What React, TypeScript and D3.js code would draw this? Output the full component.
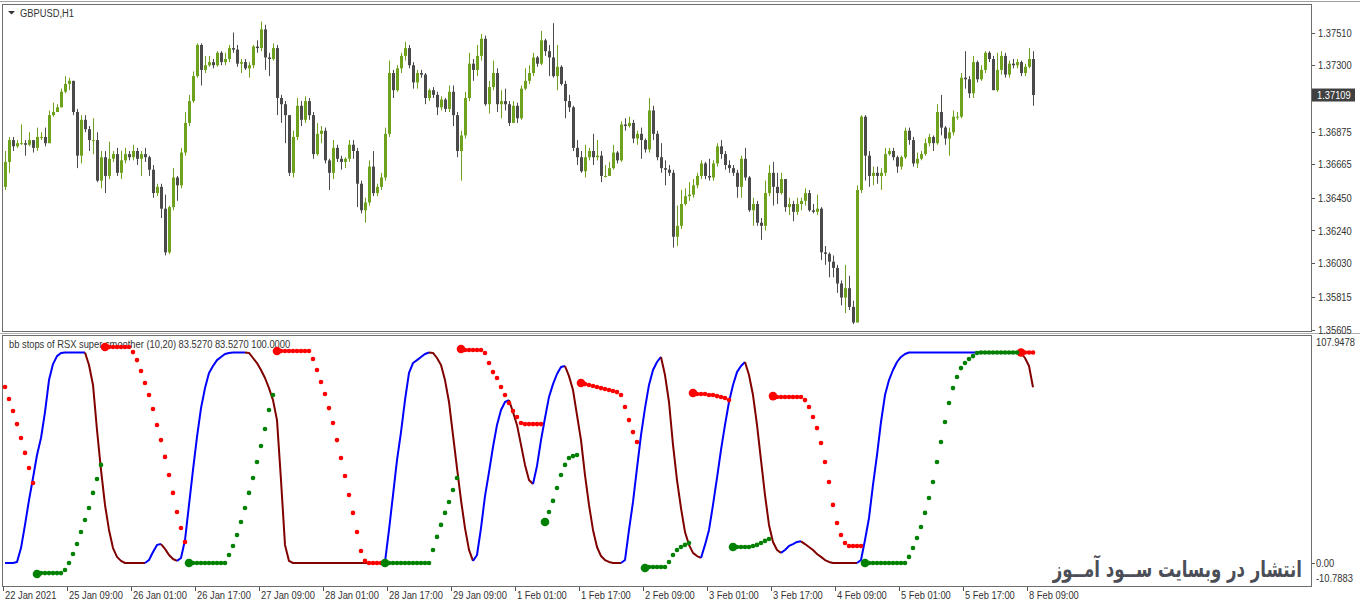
import React from 'react';
import * as d3 from 'd3';

// GBPUSD H1 candles (open of each bar = close of the previous one)
const firstOpen = 1.3652;
const closes = [
  1.3668, 1.3682, 1.3678, 1.3680, 1.3680, 1.3679, 1.3682, 1.3677, 1.3684, 1.3684,
  1.3680, 1.3698, 1.3700, 1.3703, 1.3713, 1.3718, 1.3720, 1.3700, 1.3672, 1.3695,
  1.3689, 1.3682, 1.3682, 1.3656, 1.3671, 1.3659, 1.3670, 1.3673, 1.3661, 1.3669,
  1.3673, 1.3671, 1.3675, 1.3670, 1.3673, 1.3671, 1.3663, 1.3648, 1.3652, 1.3638,
  1.3610, 1.3639, 1.3658, 1.3653, 1.3674, 1.3693, 1.3707, 1.3723, 1.3743, 1.3727,
  1.3730, 1.3732, 1.3730, 1.3738, 1.3732, 1.3734, 1.3741, 1.3740, 1.3731, 1.3732,
  1.3728, 1.3730, 1.3742, 1.3741, 1.3753, 1.3735, 1.3734, 1.3741, 1.3709, 1.3705,
  1.3698, 1.3661, 1.3684, 1.3704, 1.3695, 1.3707, 1.3698, 1.3673, 1.3686, 1.3688,
  1.3669, 1.3661, 1.3677, 1.3670, 1.3668, 1.3670, 1.3679, 1.3675, 1.3654, 1.3637,
  1.3642, 1.3665, 1.3648, 1.3652, 1.3658, 1.3686, 1.3725, 1.3714, 1.3728, 1.3736,
  1.3741, 1.3730, 1.3719, 1.3725, 1.3724, 1.3709, 1.3714, 1.3711, 1.3703, 1.3708,
  1.3702, 1.3713, 1.3698, 1.3675, 1.3685, 1.3709, 1.3731, 1.3727, 1.3736, 1.3747,
  1.3705, 1.3716, 1.3725, 1.3705, 1.3707, 1.3705, 1.3693, 1.3704, 1.3696, 1.3715,
  1.3720, 1.3725, 1.3735, 1.3731, 1.3746, 1.3739, 1.3735, 1.3723, 1.3729, 1.3718,
  1.3707, 1.3703, 1.3677, 1.3671, 1.3662, 1.3671, 1.3675, 1.3671, 1.3672, 1.3659,
  1.3659, 1.3664, 1.3674, 1.3669, 1.3692, 1.3691, 1.3693, 1.3683, 1.3686, 1.3682,
  1.3676, 1.3701, 1.3686, 1.3671, 1.3664, 1.3663, 1.3661, 1.3620, 1.3627, 1.3641,
  1.3646, 1.3647, 1.3653, 1.3659, 1.3667, 1.3659, 1.3658, 1.3667, 1.3678, 1.3673,
  1.3666, 1.3664, 1.3661, 1.3652, 1.3670, 1.3658, 1.3637, 1.3641, 1.3629, 1.3627,
  1.3648, 1.3661, 1.3652, 1.3648, 1.3657, 1.3639, 1.3641, 1.3636, 1.3641, 1.3643,
  1.3648, 1.3637, 1.3636, 1.3638, 1.3610, 1.3609, 1.3604, 1.3600, 1.3590, 1.3581,
  1.3587, 1.3575, 1.3565, 1.3650, 1.3697, 1.3672, 1.3659, 1.3661, 1.3659, 1.3661,
  1.3673, 1.3675, 1.3671, 1.3665, 1.3671, 1.3688, 1.3682, 1.3667, 1.3670, 1.3673,
  1.3680, 1.3684, 1.3680, 1.3700, 1.3690, 1.3683, 1.3687, 1.3697, 1.3697, 1.3722,
  1.3721, 1.3712, 1.3732, 1.3721, 1.3727, 1.3738, 1.3734, 1.3714, 1.3727, 1.3736,
  1.3724, 1.3731, 1.3730, 1.3732, 1.3725, 1.3729, 1.3734, 1.37109,
];
const highs = [
  1.3675, 1.3684, 1.3684, 1.3682, 1.3692, 1.3682, 1.3687, 1.3682, 1.3690, 1.3687,
  1.3690, 1.3701, 1.3706, 1.3705, 1.3715, 1.3723, 1.3722, 1.3720, 1.3702, 1.3698,
  1.3698, 1.3691, 1.3696, 1.3687, 1.3675, 1.3675, 1.3681, 1.3675, 1.3677, 1.3675,
  1.3677, 1.3675, 1.3679, 1.3677, 1.3675, 1.3677, 1.3672, 1.3666, 1.3654, 1.3654,
  1.3647, 1.3640, 1.3664, 1.3659, 1.3677, 1.3700, 1.3711, 1.3726, 1.3744, 1.3744,
  1.3736, 1.3736, 1.3734, 1.3739, 1.3739, 1.3738, 1.3743, 1.3751, 1.3743, 1.3734,
  1.3734, 1.3732, 1.3743, 1.3746, 1.3758, 1.3756, 1.3738, 1.3744, 1.3743, 1.3711,
  1.3707, 1.3698, 1.3688, 1.3709, 1.3707, 1.3710, 1.3709, 1.3700, 1.3693, 1.3691,
  1.3690, 1.3670, 1.3682, 1.3679, 1.3672, 1.3671, 1.3682, 1.3682, 1.3677, 1.3656,
  1.3645, 1.3669, 1.3675, 1.3654, 1.3661, 1.3690, 1.3733, 1.3727, 1.3730, 1.3738,
  1.3745, 1.3743, 1.3732, 1.3727, 1.3727, 1.3725, 1.3715, 1.3716, 1.3713, 1.3710,
  1.3709, 1.3717, 1.3717, 1.3700, 1.3688, 1.3713, 1.3738, 1.3734, 1.3743, 1.3750,
  1.3749, 1.3720, 1.3733, 1.3728, 1.3714, 1.3715, 1.3707, 1.3707, 1.3706, 1.3717,
  1.3728, 1.3730, 1.3738, 1.3736, 1.3752, 1.3747, 1.3743, 1.3757, 1.3743, 1.3730,
  1.3720, 1.3711, 1.3704, 1.3682, 1.3675, 1.3679, 1.3677, 1.3686, 1.3682, 1.3675,
  1.3666, 1.3668, 1.3679, 1.3675, 1.3694, 1.3696, 1.3697, 1.3695, 1.3688, 1.3690,
  1.3683, 1.3709, 1.3704, 1.3688, 1.3680, 1.3669, 1.3666, 1.3663, 1.3640, 1.3650,
  1.3651, 1.3655, 1.3657, 1.3661, 1.3669, 1.3668, 1.3670, 1.3669, 1.3680, 1.3682,
  1.3675, 1.3669, 1.3666, 1.3663, 1.3672, 1.3677, 1.3659, 1.3645, 1.3643, 1.3632,
  1.3656, 1.3666, 1.3668, 1.3661, 1.3661, 1.3657, 1.3645, 1.3643, 1.3645, 1.3645,
  1.3651, 1.3650, 1.3641, 1.3647, 1.3639, 1.3614, 1.3610, 1.3608, 1.3602, 1.3592,
  1.3602, 1.3595, 1.3579, 1.3653, 1.3698, 1.3698, 1.3675, 1.3665, 1.3665, 1.3664,
  1.3677, 1.3677, 1.3677, 1.3672, 1.3672, 1.3690, 1.3690, 1.3684, 1.3674, 1.3675,
  1.3683, 1.3686, 1.3685, 1.3705, 1.3711, 1.3691, 1.3690, 1.3701, 1.3700, 1.3725,
  1.3739, 1.3723, 1.3736, 1.3733, 1.3730, 1.3739, 1.3739, 1.3736, 1.3738, 1.3739,
  1.3738, 1.3733, 1.3734, 1.3734, 1.3733, 1.3731, 1.3741, 1.3739,
];
const lows = [
  1.3650, 1.3661, 1.3675, 1.3677, 1.3679, 1.3672, 1.3678, 1.3674, 1.3675, 1.3682,
  1.3678, 1.3680, 1.3697, 1.3700, 1.3703, 1.3712, 1.3714, 1.3698, 1.3664, 1.3667,
  1.3687, 1.3675, 1.3673, 1.3655, 1.3651, 1.3648, 1.3657, 1.3668, 1.3659, 1.3657,
  1.3667, 1.3669, 1.3669, 1.3666, 1.3659, 1.3668, 1.3659, 1.3645, 1.3646, 1.3632,
  1.3608, 1.3609, 1.3637, 1.3643, 1.3651, 1.3672, 1.3691, 1.3706, 1.3722, 1.3717,
  1.3725, 1.3729, 1.3728, 1.3729, 1.3730, 1.3730, 1.3732, 1.3738, 1.3729, 1.3725,
  1.3727, 1.3722, 1.3728, 1.3738, 1.3739, 1.3727, 1.3723, 1.3733, 1.3698, 1.3693,
  1.3680, 1.3659, 1.3658, 1.3682, 1.3691, 1.3693, 1.3695, 1.3670, 1.3672, 1.3680,
  1.3667, 1.3650, 1.3657, 1.3668, 1.3663, 1.3664, 1.3668, 1.3670, 1.3639, 1.3635,
  1.3629, 1.3640, 1.3646, 1.3646, 1.3650, 1.3656, 1.3684, 1.3709, 1.3713, 1.3725,
  1.3733, 1.3728, 1.3715, 1.3715, 1.3722, 1.3705, 1.3707, 1.3709, 1.3698, 1.3701,
  1.3700, 1.3700, 1.3691, 1.3671, 1.3656, 1.3683, 1.3707, 1.3720, 1.3723, 1.3733,
  1.3704, 1.3699, 1.3714, 1.3700, 1.3696, 1.3701, 1.3691, 1.3698, 1.3693, 1.3695,
  1.3714, 1.3718, 1.3723, 1.3729, 1.3730, 1.3736, 1.3723, 1.3722, 1.3714, 1.3717,
  1.3696, 1.3700, 1.3675, 1.3666, 1.3661, 1.3658, 1.3669, 1.3666, 1.3669, 1.3655,
  1.3658, 1.3659, 1.3663, 1.3667, 1.3668, 1.3688, 1.3690, 1.3680, 1.3679, 1.3670,
  1.3674, 1.3674, 1.3682, 1.3669, 1.3661, 1.3653, 1.3659, 1.3613, 1.3614, 1.3625,
  1.3640, 1.3643, 1.3645, 1.3651, 1.3657, 1.3657, 1.3656, 1.3656, 1.3665, 1.3670,
  1.3663, 1.3661, 1.3659, 1.3645, 1.3645, 1.3656, 1.3636, 1.3627, 1.3627, 1.3618,
  1.3624, 1.3646, 1.3640, 1.3641, 1.3647, 1.3636, 1.3634, 1.3630, 1.3634, 1.3637,
  1.3640, 1.3636, 1.3635, 1.3634, 1.3605, 1.3602, 1.3594, 1.3594, 1.3584, 1.3576,
  1.3571, 1.3573, 1.3564, 1.3566, 1.3648, 1.3656, 1.3652, 1.3653, 1.3654, 1.3650,
  1.3659, 1.3672, 1.3669, 1.3661, 1.3663, 1.3670, 1.3679, 1.3665, 1.3664, 1.3669,
  1.3672, 1.3678, 1.3675, 1.3679, 1.3685, 1.3679, 1.3672, 1.3685, 1.3695, 1.3696,
  1.3715, 1.3709, 1.3709, 1.3719, 1.3720, 1.3725, 1.3732, 1.3714, 1.3713, 1.3724,
  1.3722, 1.3722, 1.3728, 1.3728, 1.3723, 1.3723, 1.3728, 1.3704,
];

// RSX super smoother, one value per bar
const rsx = [
  0, 0, 0, 0.5, 7.1, 18.1, 29.9, 40.4, 51.3, 59.4,
  71.7, 86.9, 94.5, 98.3, 99.8, 100, 100, 100, 100, 100,
  100, 94.1, 84.6, 63.2, 44.2, 27.6, 15.7, 7.1, 2.9, 1.0,
  0, 0, 0, 0, 0, 0, 1.4, 5.2, 8.6, 9.0,
  6.7, 3.8, 1.9, 1.0, 2.4, 10.9, 27.6, 44.2, 59.9, 73.6,
  83.1, 90.3, 93.6, 96.4, 97.9, 99.3, 99.8, 100, 100, 100,
  100, 99.8, 97.4, 95.0, 91.7, 87.9, 83.1, 77.4, 67.9, 39.4,
  8.6, 1.0, 0, 0, 0, 0, 0, 0, 0, 0,
  0, 0, 0, 0, 0, 0, 0, 0, 0, 0,
  0, 0, 0, 0, 0, 0.5, 15.7, 32.3, 48.9, 62.2,
  77.4, 90.3, 95.0, 96.4, 97.9, 99.3, 100, 99.8, 97.4, 94.1,
  86.9, 76.5, 60.8, 45.1, 29.9, 16.6, 6.2, 1.0, 3.8, 16.6,
  31.8, 43.2, 55.1, 65.6, 72.7, 76.5, 77.4, 71.7, 65.6, 56.1,
  46.6, 39.4, 37.5, 46.1, 58.4, 68.9, 78.9, 85.0, 89.8, 93.1,
  93.6, 88.8, 82.2, 70.3, 58.4, 41.8, 27.6, 15.7, 7.6, 3.3,
  1.4, 0.5, 0, 0, 0, 1.4, 15.7, 29.0, 45.1, 60.8,
  73.6, 84.6, 91.7, 95.5, 97.9, 89.3, 76.5, 56.1, 39.4, 26.1,
  14.7, 8.6, 4.8, 3.3, 2.4, 8.6, 15.7, 27.6, 40.4, 53.7,
  65.6, 76.5, 84.6, 90.7, 93.6, 95.5, 89.3, 79.8, 65.6, 48.9,
  32.3, 18.1, 10.0, 6.2, 4.8, 6.2, 8.1, 9.0, 10.0, 10.3,
  9.0, 7.6, 6.2, 4.3, 2.9, 1.4, 0.5, 0, 0, 0,
  0, 0, 0, 0, 1.4, 10.9, 21.4, 37.1, 51.3, 67.0,
  79.8, 86.9, 91.7, 95.5, 97.9, 99.3, 100, 100, 100, 100,
  100, 100, 100, 100, 100, 100, 100, 100, 100, 100,
  100, 100, 100, 100, 100, 100, 100, 100, 100, 100,
  100, 100, 100, 100, 99.8, 97.4, 93.6, 83.527,
];

// stop dots: [first bar index, values...]
const upperStops: [number, number[]][] = [
  [0, [83.6, 77.9, 72.2, 66.0, 59.4, 52.3, 45.1, 38.0]],
  [25, [102.6, 102.6, 102.6, 102.6, 102.6, 102.6, 102.6, 100.2, 96.4, 91.2, 85.5, 79.8, 73.2, 65.6, 58.4, 50.4, 41.8, 33.3, 24.2, 16.6, 10.0]],
  [68, [100.7, 100.7, 100.7, 100.7, 100.7, 100.7, 100.7, 100.7, 100.7, 96.9, 91.7, 86.0, 80.3, 73.6, 66.5, 58.4, 49.9, 41.3, 32.3, 23.8, 14.7, 5.7, 1.0, 0, 0, 0, 0]],
  [114, [101.7, 101.2, 101.2, 101.2, 101.2, 101.2, 99.8, 95.0, 90.7, 87.9, 83.6, 79.8, 76.0, 72.2, 69.4, 66.5, 66.0, 66.0, 66.0, 66.0, 66.0]],
  [144, [85.5, 85.0, 84.6, 84.1, 83.6, 83.1, 82.7, 82.2, 81.7, 81.2, 79.8, 74.1, 67.9, 62.2, 57.5]],
  [172, [80.8, 80.3, 80.3, 80.3, 79.8, 79.8, 79.3, 78.9, 78.4, 77.4]],
  [192, [79.3, 78.9, 78.9, 78.9, 78.9, 78.9, 78.9, 78.9, 77.4, 74.1, 69.4, 64.1, 57.0, 48.0, 38.5, 27.6, 19.0, 13.3, 9.5, 8.1, 8.1, 8.1, 8.1]],
  [254, [100, 100, 100, 100]],
];
const lowerStops: [number, number[]][] = [
  [8, [-5.2, -4.8, -4.8, -4.8, -4.8, -4.8, -4.8, -3.3, 0, 4.3, 9.0, 14.7, 20.4, 26.1, 33.3, 39.9, 46.6]],
  [46, [0, 0, 0, 0, 0, 0, 0, 0, 0, 0, 3.8, 8.1, 13.3, 19.5, 26.1, 33.3, 40.4, 48.0, 55.6, 63.7, 72.7, 79.8]],
  [95, [0, 0, 0, 0, 0, 0, 0, 0, 0, 0, 0, 0, 6.2, 12.4, 18.1, 23.8, 29.0, 34.7, 40.4]],
  [135, [19.5, 24.2, 29.5, 35.6, 41.8, 46.6, 49.9, 50.8, 51.3]],
  [160, [-2.4, -1.9, -1.9, -1.9, -1.9, -1.9, 0.5, 3.8, 6.2, 7.6, 8.6, 9.5]],
  [182, [7.6, 7.6, 7.6, 7.6, 7.6, 8.1, 8.6, 9.5, 10.5, 11.4]],
  [215, [0, 0, 0, 0, 0, 0, 0, 0, 0, 0, 0, 2.9, 7.1, 11.9, 17.1, 23.8, 30.9, 38.5, 48.0, 57.5, 67.0, 76.0, 83.1, 88.4, 92.6, 95.0, 96.9, 98.3, 99.8, 100, 100, 100, 100, 100, 100, 100, 100, 100, 100]],
];

const priceTicks = ['1.37510', '1.37300', '1.36875', '1.36665', '1.36450', '1.36240', '1.36030', '1.35815', '1.35605'];
const lastPrice = 1.37109;
const indTicks = ['107.9478', '0.00', '-10.7883'];
const timeLabels = [
  '22 Jan 2021', '25 Jan 09:00', '26 Jan 01:00', '26 Jan 17:00', '27 Jan 09:00', '28 Jan 01:00',
  '28 Jan 17:00', '29 Jan 09:00', '1 Feb 01:00', '1 Feb 17:00', '2 Feb 09:00', '3 Feb 01:00',
  '3 Feb 17:00', '4 Feb 09:00', '5 Feb 01:00', '5 Feb 17:00', '8 Feb 09:00',
];
const barsPerLabel = 16;

const FONT = "'Liberation Sans', Arial, sans-serif";
const SX = 0.85; // squeeze to look like the narrow terminal font
const BULL = '#6ea21c';
const BEAR = '#4a4a4a';

const Label = ({ x, y, fill = '#333', children }: { x: number; y: number; fill?: string; children: React.ReactNode }) => (
  <text transform={`translate(${x},${y}) scale(${SX},1)`} fill={fill}>{children}</text>
);

export default function App() {
  const n = closes.length;
  const x = d3.scaleLinear().domain([0, n - 1]).range([5, 5 + 4 * (n - 1)]);
  const yP = d3.scaleLinear().domain([1.35605, 1.3751]).range([329.5, 32.5]);
  const yI = d3.scaleLinear().domain([-10.7883, 107.9478]).range([585.7, 335.8]);

  const candles = closes.map((c, i) => {
    const o = i === 0 ? firstOpen : closes[i - 1];
    return { i, o, c, h: Math.max(highs[i], o, c), l: Math.min(lows[i], o, c) };
  });

  // rsx colour: blue while rising, maroon while falling
  const segs: { color: string; pts: number[] }[] = [];
  let state = 'up';
  for (let i = 1; i < n; i++) {
    if (rsx[i] > rsx[i - 1]) state = 'up';
    else if (rsx[i] < rsx[i - 1]) state = 'down';
    const color = state === 'up' ? '#0000ff' : '#800000';
    const last = segs[segs.length - 1];
    if (last && last.color === color) last.pts.push(i);
    else segs.push({ color, pts: [i - 1, i] });
  }
  const line = d3.line<number>().x(i => x(i)).y(i => yI(rsx[i]));

  const dots = (runs: [number, number[]][], color: string) =>
    runs.flatMap(([start, vals]) =>
      vals.map((v, k) => (
        <circle key={`${color}-${start + k}`} cx={x(start + k)} cy={yI(v)}
          r={k === 0 && start > 0 ? 4.3 : 2.3} fill={color} />
      )));

  const yLast = yP(lastPrice);

  return (
    <svg width={1360} height={603} style={{ position: 'fixed', left: 0, top: 0, background: '#fff' }}
      fontFamily={FONT} fontSize={11}>
      <rect x={0} y={0} width={1360} height={603} fill="#fff" />
      {/* frames */}
      <line x1={0} x2={1360} y1={1.5} y2={1.5} stroke="#a0a0a0" />
      <rect x={2.5} y={4.5} width={1309} height={327} fill="none" stroke="#6d6d6d" />
      <rect x={2.5} y={335.5} width={1309} height={251} fill="none" stroke="#6d6d6d" />
      <line x1={0} x2={1360} y1={333.5} y2={333.5} stroke="#b0b0b0" />

      {/* candles */}
      <g>
        {candles.map(d => {
          const col = d.c < d.o ? BEAR : BULL;
          const top = yP(Math.max(d.o, d.c));
          const bot = yP(Math.min(d.o, d.c));
          return (
            <g key={d.i}>
              <line x1={x(d.i) + 0.5} x2={x(d.i) + 0.5} y1={yP(d.h)} y2={yP(d.l)} stroke={col} />
              <rect x={x(d.i) - 1} y={top} width={3} height={Math.max(1, bot - top)} fill={col} />
            </g>
          );
        })}
      </g>

      {/* price axis */}
      {priceTicks.map(t => (
        <g key={t}>
          <line x1={1312} x2={1315} y1={Math.round(yP(+t)) + 0.5} y2={Math.round(yP(+t)) + 0.5} stroke="#555" />
          <Label x={1318} y={yP(+t) + 4}>{t}</Label>
        </g>
      ))}
      <rect x={1312} y={yLast - 6.5} width={43} height={13} fill="#404040" />
      <Label x={1317} y={yLast + 4} fill="#fff">{lastPrice.toFixed(5)}</Label>

      {/* titles */}
      <path d="M8,11 L15,11 L11.5,14.5 Z" fill="#333" />
      <Label x={20} y={16.5}>GBPUSD,H1</Label>
      <Label x={9} y={348}>bb stops of RSX super smoother (10,20) 83.5270 83.5270 100.0000</Label>

      {/* indicator */}
      {segs.map((s, k) => (
        <path key={k} d={line(s.pts) || ''} fill="none" stroke={s.color} strokeWidth={2} strokeLinejoin="round" />
      ))}
      {dots(upperStops, '#ff0000')}
      {dots(lowerStops, '#008000')}

      {indTicks.map(t => {
        const v = +t;
        const yy = v === 0 ? yI(0) : v > 0 ? 342 : 578;
        return (
          <g key={t}>
            {v === 0 && <line x1={1312} x2={1315} y1={Math.round(yy) + 0.5} y2={Math.round(yy) + 0.5} stroke="#555" />}
            <Label x={1316} y={yy + 4}>{t}</Label>
          </g>
        );
      })}

      {/* time axis */}
      {timeLabels.map((t, k) => {
        const xx = x(k * barsPerLabel);
        return (
          <g key={t}>
            <line x1={Math.round(xx) - 1.5} x2={Math.round(xx) - 1.5} y1={587} y2={591} stroke="#555" />
            <Label x={xx} y={598.5}>{t}</Label>
          </g>
        );
      })}

      {/* watermark */}
      <text transform="translate(1302,577) scale(0.72,1)" textAnchor="end" fontFamily="'DejaVu Sans', sans-serif"
        fontWeight="bold" fontSize={23} fill="#4b4e57">انتشار در وبسایت ســود آمــوز</text>
    </svg>
  );
}
